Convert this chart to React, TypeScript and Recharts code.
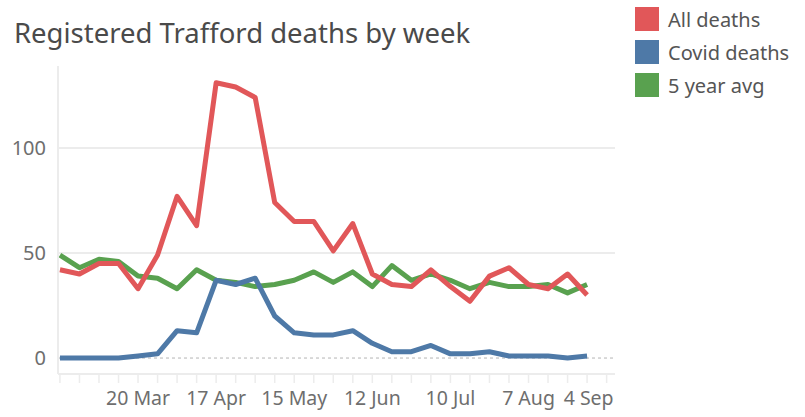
import { LineChart, Line, XAxis, YAxis, CartesianGrid, ReferenceLine } from 'recharts';

// weekly index 0 = w/e 21 Feb, last = w/e 28 Aug; axis runs to 4 Sep
const weeks = [
  '21 Feb', '28 Feb', '6 Mar', '13 Mar', '20 Mar', '27 Mar', '3 Apr', '10 Apr', '17 Apr', '24 Apr',
  '1 May', '8 May', '15 May', '22 May', '29 May', '5 Jun', '12 Jun', '19 Jun', '26 Jun', '3 Jul',
  '10 Jul', '17 Jul', '24 Jul', '31 Jul', '7 Aug', '14 Aug', '21 Aug', '28 Aug',
];
const allDeaths = [42, 40, 45, 45, 33, 49, 77, 63, 131, 129, 124, 74, 65, 65, 51, 64, 40, 35, 34, 42, 34, 27, 39, 43, 35, 33, 40, 30];
const covidDeaths = [0, 0, 0, 0, 1, 2, 13, 12, 37, 35, 38, 20, 12, 11, 11, 13, 7, 3, 3, 6, 2, 2, 3, 1, 1, 1, 0, 1];
const fiveYearAvg = [49, 43, 47, 46, 39, 38, 33, 42, 37, 36, 34, 35, 37, 41, 36, 41, 34, 44, 37, 40, 37, 33, 36, 34, 34, 35, 31, 35];

const tickLabels: Record<number, string> = {
  4: '20 Mar', 8: '17 Apr', 12: '15 May', 16: '12 Jun', 20: '10 Jul', 24: '7 Aug', 28: '4 Sep',
};
const xTicks = Array.from({ length: 29 }, (_, i) => i);

const RED = '#e15759';
const BLUE = '#4e79a7';
const GREEN = '#59a14f';
const FONT = '"Noto Sans", sans-serif';

const data = weeks.map((w, i) => ({
  i,
  week: w,
  all: allDeaths[i],
  covid: covidDeaths[i],
  avg: fiveYearAvg[i],
}));

function XTick(props: any) {
  const { x, y, payload } = props;
  const label = tickLabels[payload.value];
  if (!label) return null;
  const last = payload.value === 28;
  return (
    <text
      x={last ? x + 7 : x}
      y={y + 20}
      textAnchor={last ? 'end' : 'middle'}
      fill="#6e6e6e"
      fontSize={19.5}
      fontFamily={FONT}
    >
      {label}
    </text>
  );
}

const legendItems = [
  { name: 'All deaths', color: RED },
  { name: 'Covid deaths', color: BLUE },
  { name: '5 year avg', color: GREEN },
];

export default function App() {
  return (
    <div style={{ position: 'absolute', left: 0, top: 0, width: 805, height: 417, background: '#fff', fontFamily: FONT }}>
      <div style={{ position: 'absolute', left: 14, top: 14, fontSize: 27.5, color: '#4a4a4a', whiteSpace: 'nowrap' }}>
        Registered Trafford deaths by week
      </div>
      <div style={{ position: 'absolute', left: 635, top: 7 }}>
        {legendItems.map((it) => (
          <div key={it.name} style={{ display: 'flex', alignItems: 'center', height: 24, marginBottom: 9 }}>
            <div style={{ width: 24, height: 24, background: it.color, marginRight: 9 }} />
            <span style={{ fontSize: 20, color: '#555' }}>{it.name}</span>
          </div>
        ))}
      </div>
      <LineChart
        width={805}
        height={417}
        data={data}
        margin={{ top: 66, right: 190, bottom: 0, left: 0 }}
      >
        <CartesianGrid vertical={false} stroke="#ececec" strokeWidth={2} horizontalValues={[50, 100]} />
        <XAxis
          dataKey="i"
          type="number"
          domain={[-0.1, 28.43]}
          ticks={xTicks}
          interval={0}
          height={43}
          axisLine={{ stroke: '#ececec', strokeWidth: 2 }}
          tickLine={{ stroke: '#ececec', strokeWidth: 1.5 }}
          tickSize={9}
          tick={<XTick />}
          allowDataOverflow
        />
        <YAxis
          type="number"
          domain={[-7.6, 139]}
          ticks={[0, 50, 100]}
          width={58}
          axisLine={{ stroke: '#ececec', strokeWidth: 2 }}
          tickLine={false}
          tickSize={0}
          tickMargin={12}
          tick={{ fill: '#6e6e6e', fontSize: 20, fontFamily: FONT }}
          allowDataOverflow
        />
        <ReferenceLine y={0} stroke="#b4b4b4" strokeDasharray="3 3" />
        <Line dataKey="avg" stroke={GREEN} strokeWidth={5} dot={false} isAnimationActive={false} strokeLinejoin="round" />
        <Line dataKey="covid" stroke={BLUE} strokeWidth={5} dot={false} isAnimationActive={false} strokeLinejoin="round" />
        <Line dataKey="all" stroke={RED} strokeWidth={5} dot={false} isAnimationActive={false} strokeLinejoin="round" />
      </LineChart>
    </div>
  );
}
